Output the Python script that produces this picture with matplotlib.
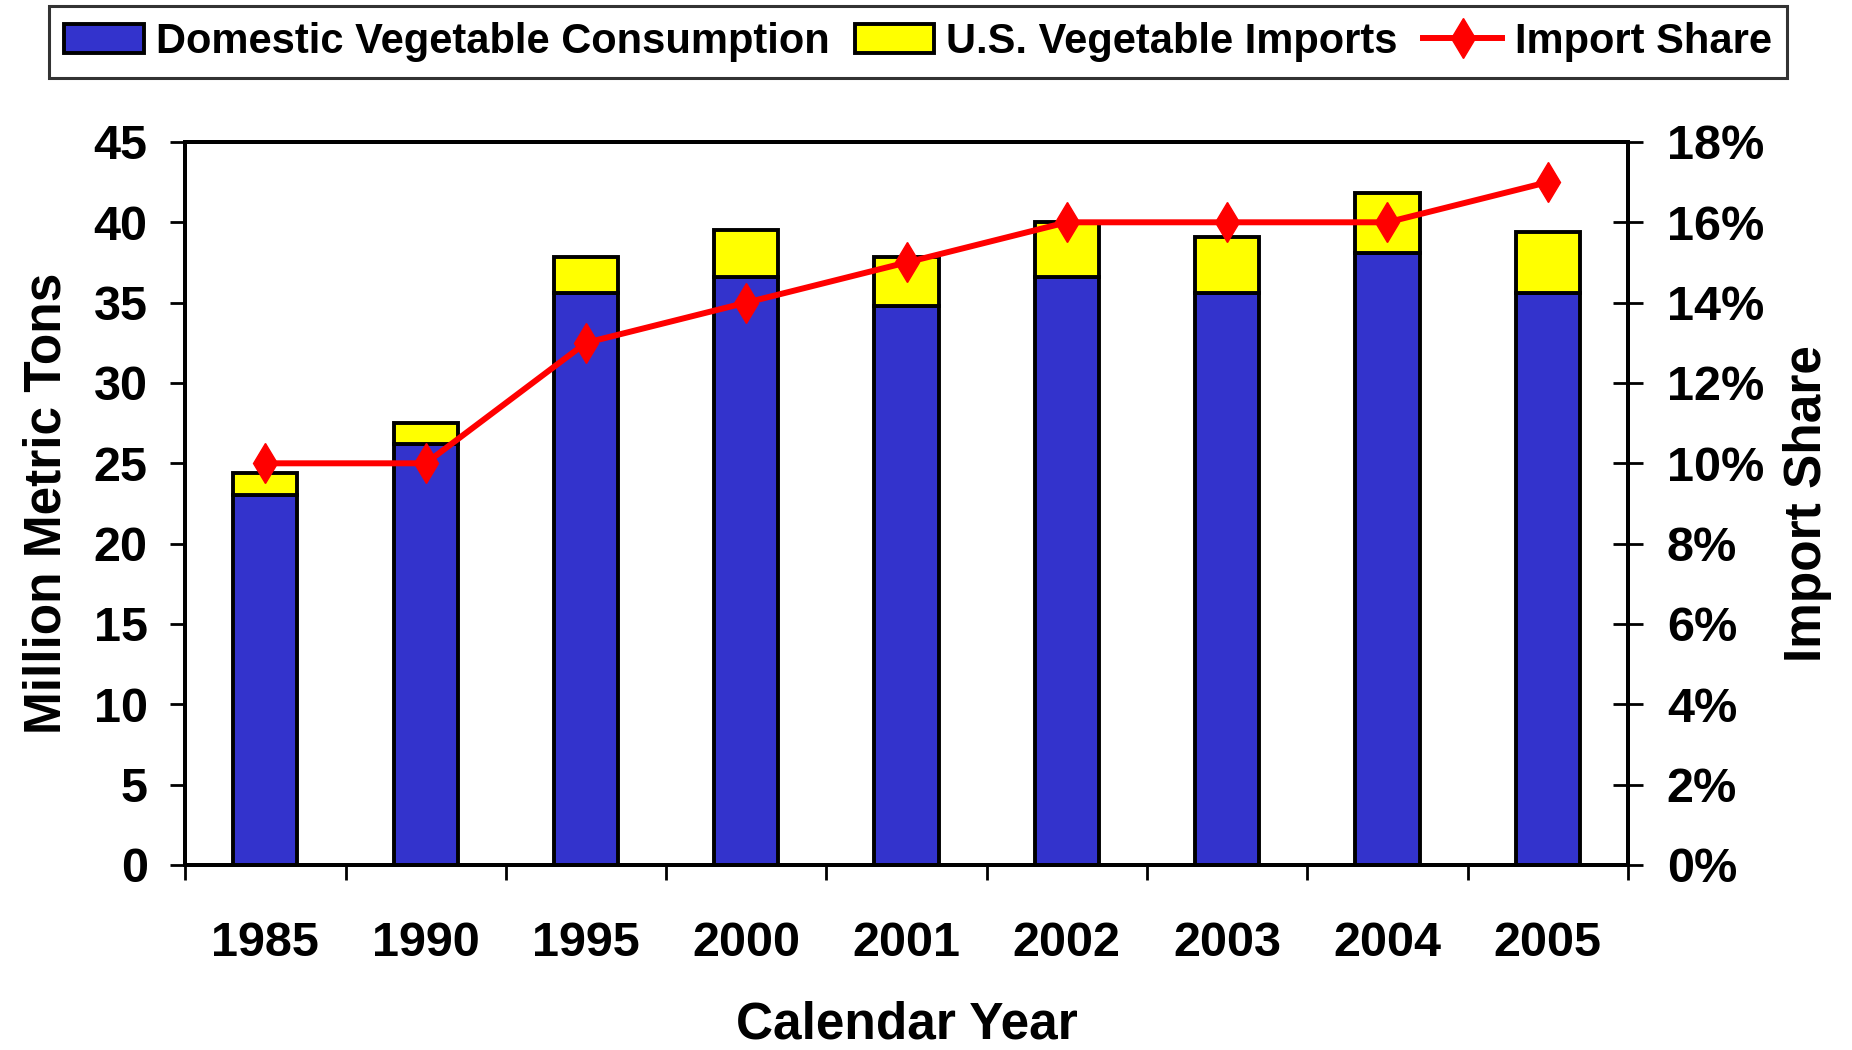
import numpy as np
import matplotlib.pyplot as plt
from matplotlib.ticker import FixedLocator

plt.rcParams['font.family'] = ['Liberation Sans', 'DejaVu Sans']
plt.rcParams['font.weight'] = 'bold'

years = ['1985', '1990', '1995', '2000', '2001', '2002', '2003', '2004', '2005']
domestic = [23.0, 26.2, 35.6, 36.6, 34.8, 36.6, 35.6, 38.1, 35.6]
imports_total = [24.4, 27.5, 37.85, 39.55, 37.85, 40.0, 39.1, 41.8, 39.4]
import_share = [10, 10, 13, 14, 15, 16, 16, 16, 17]

imports = [t - d for t, d in zip(imports_total, domestic)]

fig = plt.figure(figsize=(18.52, 10.5), dpi=100)
ax = fig.add_axes([0.1, 0.1762, 0.779, 0.6886])
x = np.arange(len(years))

b1 = ax.bar(x, domestic, width=0.4, color='#3333CC', edgecolor='black', linewidth=2.8,
            label='Domestic Vegetable Consumption', zorder=2)
b2 = ax.bar(x, imports, width=0.4, bottom=domestic, color='#FFFF00', edgecolor='black',
            linewidth=2.8, label='U.S. Vegetable Imports', zorder=2)

ax.set_xlim(-0.5, len(years) - 0.5)
ax.set_ylim(0, 45)
ax.set_yticks(np.arange(0, 46, 5))
ax.set_xticks(x)
ax.set_xticklabels(years)
ax.xaxis.set_minor_locator(FixedLocator(np.arange(-0.5, len(years), 1.0)))
ax.tick_params(axis='x', which='major', length=0, pad=40, labelsize=35)
ax.tick_params(axis='x', which='minor', length=11, width=2, direction='out')
ax.tick_params(axis='y', length=11, width=2, direction='out', pad=16, labelsize=35)
for s in ax.spines.values():
    s.set_linewidth(2.8)
ax.set_xlabel('Calendar Year', fontsize=37, fontweight='bold', labelpad=25)
ax.set_ylabel('Million Metric Tons', fontsize=37, fontweight='bold', labelpad=16)

ax2 = ax.twinx()
ln, = ax2.plot(x, import_share, color='#FF0000', linewidth=4.3, marker='d',
               markersize=20, label='Import Share', zorder=3)
ax2.set_ylim(0, 18)
ax2.set_yticks(np.arange(0, 19, 2))
ax2.set_yticklabels([f'{v}%' for v in range(0, 19, 2)])
ax2.tick_params(axis='y', length=22, width=2, direction='inout', pad=17, labelsize=35)
ax2.set_ylabel('Import Share', fontsize=37, fontweight='bold', labelpad=14)
for s in ax2.spines.values():
    s.set_linewidth(2.8)

leg = fig.legend(handles=[b1, b2, ln], loc='center', bbox_to_anchor=(0.4957, 0.96), ncol=3,
                 fontsize=30, frameon=True, fancybox=False, edgecolor='black',
                 handlelength=1.9, handletextpad=0.3, columnspacing=0.6, borderpad=0.38)
leg.get_frame().set_linewidth(2.2)

fig.savefig('out.png', dpi=100)
